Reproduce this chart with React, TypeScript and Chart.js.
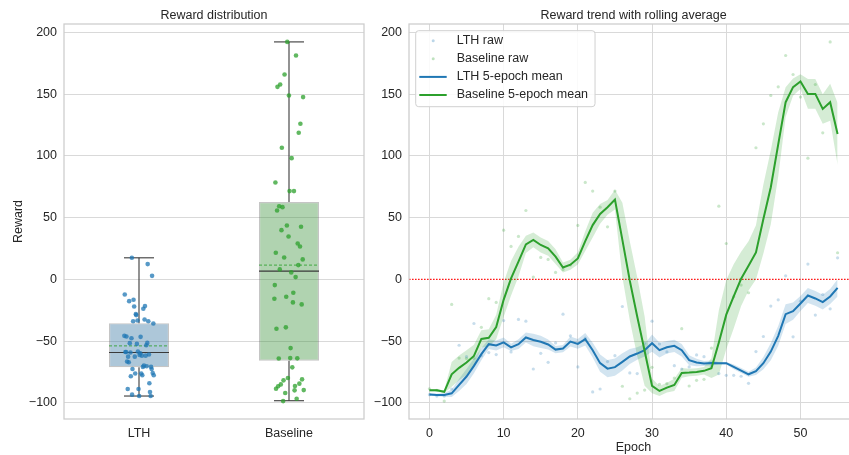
import React, { useEffect, useRef } from "react";
import { Chart, registerables } from "chart.js";

Chart.register(...registerables);

const FONT = "'Liberation Sans', Arial, Helvetica, sans-serif";
const FONT_SIZE = 12.5;
const TEXT = "#262626";
const GRID = "#d9d9d9";
const SPINE = "#cccccc";
const BLUE = "#1f77b4";
const GREEN = "#2ca02c";
const RED = "#ff0000";

// ---------------- data ----------------
const epochs = [
  0, 1, 2, 3, 4, 5, 6, 7, 8, 9, 10, 11, 12, 13, 14, 15, 16, 17, 18, 19,
  20, 21, 22, 23, 24, 25, 26, 27, 28, 29, 30, 31, 32, 33, 34, 35, 36, 37, 38, 39,
  40, 41, 42, 43, 44, 45, 46, 47, 48, 49, 50, 51, 52, 53, 54, 55,
];

const lthRaw = [
  -93.3, -94.4, -94.4, -88.7, -53.3, -62.5, -35.7, -61.7, -59.2, -60.8,
  -33.3, -58.7, -32.4, -33.8, -72.5, -59.8, -67.1, -51.4, -28.1, -45.7,
  -70.8, -47.6, -91.1, -88.7, -66.5, -61.7, -21.9, -75.7, -76.2, -51.6,
  -33.8, -52.2, -58.7, -69.8, -72.5, -70.8, -61.1, -62.5, -70.3, -76.2,
  -77.6, -77.6, -78.4, -84.1, -58.4, -46.2, -21.6, -16.5, 2.9, -46.5,
  -17.6, 12.4, -28.9, -12.2, -23.8, 17.5,
];

const baselineRaw = [
  -88.5, -89.8, -98.5, -20.2, -63.7, -64.0, -63.9, -38.8, -15.6, -18.6,
  39.9, 26.7, 34.8, 55.8, 1.9, 17.8, 16.2, 5.7, 8.1, 11.6,
  43.7, 78.5, 71.5, 58.5, 42.6, 71.5, -86.5, -96.6, -92.0, -89.6,
  -71.2, -85.0, -84.4, -79.8, -39.9, -86.3, -81.7, -80.9, -55.6, 59.3,
  29.1, -14.0, -4.6, -10.8, 106.6, 126.0, 148.9, 155.9, 181.3, 165.9,
  147.6, 98.2, 157.8, 118.7, 192.3, 21.6,
];

const lthMean = [
  -93.2, -93.5, -93.5, -92.2, -85.4, -78.6, -70.0, -60.5, -52.4, -53.5,
  -51.0, -55.0, -52.4, -47.0, -49.0, -50.5, -52.7, -56.8, -56.0, -50.3,
  -52.2, -48.4, -57.3, -67.8, -72.2, -71.0, -66.8, -62.4, -60.0, -57.3,
  -51.6, -57.3, -54.9, -53.8, -57.3, -65.4, -67.3, -68.1, -67.6, -67.8,
  -67.8, -70.8, -73.8, -76.8, -74.3, -67.8, -58.4, -45.7, -28.1, -25.7,
  -19.5, -13.0, -15.4, -18.4, -13.8, -6.8,
];

const baselineMean = [
  -89.7, -89.7, -91.0, -76.8, -71.6, -67.3, -61.9, -48.2, -47.3, -38.5,
  -16.5, 0.9, 14.4, 28.3, 32.0, 27.9, 25.2, 18.5, 9.7, 11.9,
  17.0, 31.0, 44.0, 53.0, 58.4, 64.6, 32.0, -1.0, -30.0, -58.0,
  -86.2, -90.3, -87.6, -85.4, -75.7, -75.4, -74.9, -74.0, -71.9, -51.0,
  -28.5, -13.8, 0.5, 11.0, 21.9, 48.9, 74.6, 109.4, 143.5, 155.7,
  160.2, 150.2, 150.2, 138.0, 143.5, 117.8,
];

// half-width of the shaded band around each rolling mean
const lthBand = [
  1, 1, 1.5, 3, 5, 6, 6, 5, 4, 4,
  4, 3, 4, 4, 5, 5, 4, 3, 3, 4,
  4, 5, 6, 7, 7, 7, 7, 6, 5, 5,
  7, 6, 5, 5, 5, 4, 3, 2, 2, 1,
  1, 2, 2, 2, 3, 5, 7, 8, 8, 7,
  6, 6, 6, 6, 6, 7,
];

const baselineBand = [
  1, 1, 1, 10, 10, 10, 9, 7, 7, 10,
  14, 14, 12, 7, 6, 6, 6, 6, 4, 4,
  5, 8, 10, 8, 6, 8, 30, 32, 32, 28,
  6, 4, 4, 5, 4, 3, 3, 3, 8, 26,
  28, 26, 22, 20, 22, 28, 30, 26, 12, 7,
  6, 12, 12, 12, 15, 25,
];

const groups = ["LTH", "Baseline"];
const boxLow = [-94.4, -98.2];
const boxQ1 = [-71.1, -65.8];
const boxMedian = [-59.2, 6.7];
const boxMean = [-53.8, 11.6];
const boxQ3 = [-35.4, 62.6];
const boxHigh = [17.5, 192.3];

const yTicks = [-100, -50, 0, 50, 100, 150, 200];
const epochTicks = [0, 10, 20, 30, 40, 50];
const Y_MIN = -113;
const Y_MAX = 206.8;
const X_MIN = -2.75;
const X_MAX = 57.75;
const ZERO_LEVEL = 0;

const legendLabels = ["LTH raw", "Baseline raw", "LTH 5-epoch mean", "Baseline 5-epoch mean"];

// ---------------- helpers ----------------
const fmt = (v: number) => (v < 0 ? "\u2212" + Math.abs(v) : String(v));
const jitter = (i: number) => (((i * 0.6180339887 + 0.27) % 1) - 0.5) * 0.2;
const font = { family: FONT, size: FONT_SIZE };

const framePlugin = {
  id: "frame",
  afterDraw(chart: any) {
    const { ctx, chartArea: a } = chart;
    ctx.save();
    ctx.strokeStyle = SPINE;
    ctx.lineWidth = 1.25;
    ctx.strokeRect(a.left, a.top, a.right - a.left, a.bottom - a.top);
    ctx.restore();
  },
};

const textPlugin = (title: string, xLabel: string | null, yLabel: string | null) => ({
  id: "texts",
  afterDraw(chart: any) {
    const { ctx, chartArea: a } = chart;
    ctx.save();
    ctx.fillStyle = TEXT;
    ctx.font = `${FONT_SIZE}px ${FONT}`;
    ctx.textAlign = "center";
    ctx.textBaseline = "middle";
    const cx = (a.left + a.right) / 2;
    ctx.fillText(title, cx, a.top - 8.5);
    if (xLabel) ctx.fillText(xLabel, cx, a.bottom + 29);
    if (yLabel) {
      ctx.translate(a.left - 45.5, (a.top + a.bottom) / 2);
      ctx.rotate(-Math.PI / 2);
      ctx.fillText(yLabel, 0, 0);
    }
    ctx.restore();
  },
});

// horizontal reference line (axhline) drawn through the y scale
const zeroLinePlugin = {
  id: "zeroLine",
  beforeDatasetsDraw(chart: any) {
    const { ctx, chartArea: a } = chart;
    const y = chart.scales.y.getPixelForValue(ZERO_LEVEL);
    ctx.save();
    ctx.strokeStyle = RED;
    ctx.globalAlpha = 0.9;
    ctx.lineWidth = 1.3;
    ctx.setLineDash([1.6, 1.4]);
    ctx.beginPath();
    ctx.moveTo(a.left, y);
    ctx.lineTo(a.right, y);
    ctx.stroke();
    ctx.restore();
  },
};

const boxPartsPlugin = {
  id: "boxParts",
  afterDatasetDraw(chart: any, args: any) {
    if (args.meta.type !== "bar") return;
    const { ctx } = chart;
    const xs = chart.scales.x;
    const ys = chart.scales.y;
    groups.forEach((_, i) => {
      const cx = xs.getPixelForValue(i);
      const half = xs.getPixelForValue(i + 0.2) - cx;
      const cap = half / 2;
      const line = (x1: number, y1: number, x2: number, y2: number) => {
        ctx.beginPath();
        ctx.moveTo(x1, y1);
        ctx.lineTo(x2, y2);
        ctx.stroke();
      };
      ctx.save();
      ctx.strokeStyle = "#3a3a3a";
      ctx.lineWidth = 1.1;
      line(cx, ys.getPixelForValue(boxQ3[i]), cx, ys.getPixelForValue(boxHigh[i]));
      line(cx, ys.getPixelForValue(boxQ1[i]), cx, ys.getPixelForValue(boxLow[i]));
      line(cx - cap, ys.getPixelForValue(boxHigh[i]), cx + cap, ys.getPixelForValue(boxHigh[i]));
      line(cx - cap, ys.getPixelForValue(boxLow[i]), cx + cap, ys.getPixelForValue(boxLow[i]));
      line(cx - half, ys.getPixelForValue(boxMedian[i]), cx + half, ys.getPixelForValue(boxMedian[i]));
      ctx.strokeStyle = "rgba(44,160,44,0.85)";
      ctx.lineWidth = 1;
      ctx.setLineDash([3, 2]);
      line(cx - half, ys.getPixelForValue(boxMean[i]), cx + half, ys.getPixelForValue(boxMean[i]));
      ctx.restore();
    });
  },
};

const legendPlugin = {
  id: "legendBox",
  afterDatasetsDraw(chart: any) {
    const { ctx, chartArea: a } = chart;
    ctx.save();
    ctx.font = `${FONT_SIZE}px ${FONT}`;
    const maxW = Math.max(...legendLabels.map((t) => ctx.measureText(t).width));
    const left = a.left + 6.7;
    const top = a.top + 6.7;
    const w = 41 + maxW + 7;
    const h = 76;
    ctx.beginPath();
    ctx.roundRect(left, top, w, h, 3);
    ctx.fillStyle = "rgba(255,255,255,0.85)";
    ctx.fill();
    ctx.strokeStyle = "#d0d0d0";
    ctx.lineWidth = 1;
    ctx.stroke();
    const kinds = ["dot", "dot", "line", "line"];
    const colors = ["rgba(31,119,180,0.3)", "rgba(44,160,44,0.3)", BLUE, GREEN];
    legendLabels.forEach((label, i) => {
      const cy = top + 10 + 18.1 * i;
      if (kinds[i] === "dot") {
        ctx.beginPath();
        ctx.arc(left + 17.5, cy, 1.5, 0, Math.PI * 2);
        ctx.fillStyle = colors[i];
        ctx.fill();
      } else {
        ctx.beginPath();
        ctx.moveTo(left + 3.6, cy);
        ctx.lineTo(left + 31, cy);
        ctx.strokeStyle = colors[i];
        ctx.lineWidth = 2;
        ctx.stroke();
      }
      ctx.fillStyle = TEXT;
      ctx.textAlign = "left";
      ctx.textBaseline = "middle";
      ctx.fillText(label, left + 41, cy);
    });
    ctx.restore();
  },
};

function leftConfig(): any {
  return {
    type: "scatter",
    data: {
      datasets: [
        {
          type: "scatter",
          data: lthRaw.map((v, i) => ({ x: 0 + jitter(i), y: v })),
          backgroundColor: "rgba(31,119,180,0.75)",
          borderWidth: 0,
          pointRadius: 2.3,
          order: 1,
        },
        {
          type: "scatter",
          data: baselineRaw.map((v, i) => ({ x: 1 + jitter(i + 11), y: v })),
          backgroundColor: "rgba(44,160,44,0.75)",
          borderWidth: 0,
          pointRadius: 2.3,
          order: 1,
        },
        {
          type: "bar",
          data: groups.map((_, i) => ({ x: i, y: [boxQ1[i], boxQ3[i]] })),
          backgroundColor: ["rgba(50,116,161,0.4)", "rgba(58,146,58,0.4)"],
          borderColor: "rgba(90,90,90,0.35)",
          borderWidth: 1.2,
          borderSkipped: false,
          categoryPercentage: 1,
          barPercentage: 0.4,
          order: 2,
        },
      ],
    },
    options: {
      responsive: false,
      animation: false,
      events: [],
      layout: { padding: { top: 24, right: 6, left: 0, bottom: 0 } },
      plugins: { legend: { display: false }, tooltip: { enabled: false } },
      scales: {
        x: {
          type: "linear",
          offset: false,
          min: -0.5,
          max: 1.5,
          afterBuildTicks: (s: any) => {
            s.ticks = groups.map((_, i) => ({ value: i }));
          },
          afterFit: (s: any) => {
            s.height = 36;
          },
          ticks: { callback: (v: number) => groups[v], padding: 7, color: TEXT, font, maxRotation: 0 },
          grid: { display: false, drawTicks: false, offset: false },
          border: { display: false },
        },
        y: {
          type: "linear",
          min: Y_MIN,
          max: Y_MAX,
          afterBuildTicks: (s: any) => {
            s.ticks = yTicks.map((v) => ({ value: v }));
          },
          afterFit: (s: any) => {
            s.width = 64;
          },
          ticks: { callback: (v: number) => fmt(v), padding: 7, color: TEXT, font },
          grid: { color: GRID, lineWidth: 1, drawTicks: false },
          border: { display: false },
        },
      },
    },
    plugins: [boxPartsPlugin, framePlugin, textPlugin("Reward distribution", null, "Reward")],
  };
}

function rightConfig(): any {
  const pts = (arr: number[]) => arr.map((v, i) => ({ x: epochs[i], y: v }));
  const bandPts = (mean: number[], hw: number[], sign: number) =>
    mean.map((m, i) => ({ x: epochs[i], y: m + sign * hw[i] }));
  return {
    type: "line",
    data: {
      datasets: [
        { data: bandPts(lthMean, lthBand, -1), borderWidth: 0, pointRadius: 0, fill: false, order: 6 },
        {
          data: bandPts(lthMean, lthBand, 1),
          borderWidth: 0,
          pointRadius: 0,
          fill: "-1",
          backgroundColor: "rgba(31,119,180,0.2)",
          order: 6,
        },
        { data: bandPts(baselineMean, baselineBand, -1), borderWidth: 0, pointRadius: 0, fill: false, order: 5 },
        {
          data: bandPts(baselineMean, baselineBand, 1),
          borderWidth: 0,
          pointRadius: 0,
          fill: "-1",
          backgroundColor: "rgba(44,160,44,0.2)",
          order: 5,
        },
        {
          data: pts(lthRaw),
          showLine: false,
          pointRadius: 1.6,
          borderWidth: 0,
          backgroundColor: "rgba(31,119,180,0.25)",
          order: 4,
        },
        {
          data: pts(baselineRaw),
          showLine: false,
          pointRadius: 1.6,
          borderWidth: 0,
          backgroundColor: "rgba(44,160,44,0.25)",
          order: 4,
        },
        { data: pts(lthMean), borderColor: BLUE, borderWidth: 2, pointRadius: 0, order: 1 },
        { data: pts(baselineMean), borderColor: GREEN, borderWidth: 2, pointRadius: 0, order: 0 },
      ],
    },
    options: {
      responsive: false,
      animation: false,
      events: [],
      layout: { padding: { top: 24, right: 12, left: 0, bottom: 0 } },
      plugins: { legend: { display: false }, tooltip: { enabled: false } },
      elements: { line: { tension: 0 } },
      scales: {
        x: {
          type: "linear",
          min: X_MIN,
          max: X_MAX,
          afterBuildTicks: (s: any) => {
            s.ticks = epochTicks.map((v) => ({ value: v }));
          },
          afterFit: (s: any) => {
            s.height = 36;
          },
          ticks: { callback: (v: number) => String(v), padding: 7, color: TEXT, font, maxRotation: 0 },
          grid: { color: GRID, lineWidth: 1, drawTicks: false },
          border: { display: false },
        },
        y: {
          type: "linear",
          min: Y_MIN,
          max: Y_MAX,
          afterBuildTicks: (s: any) => {
            s.ticks = yTicks.map((v) => ({ value: v }));
          },
          afterFit: (s: any) => {
            s.width = 39;
          },
          ticks: { callback: (v: number) => fmt(v), padding: 7, color: TEXT, font },
          grid: {
            color: (c: any) => (c.tick && c.tick.value === ZERO_LEVEL ? "rgba(0,0,0,0)" : GRID),
            lineWidth: 1,
            drawTicks: false,
          },
          border: { display: false },
        },
      },
    },
    plugins: [zeroLinePlugin, legendPlugin, framePlugin, textPlugin("Reward trend with rolling average", "Epoch", null)],
  };
}

export default function App() {
  const leftRef = useRef<HTMLCanvasElement>(null);
  const rightRef = useRef<HTMLCanvasElement>(null);

  useEffect(() => {
    Chart.defaults.font.family = FONT;
    Chart.defaults.font.size = FONT_SIZE;
    Chart.defaults.color = TEXT;
    const c1 = new Chart(leftRef.current as HTMLCanvasElement, leftConfig());
    const c2 = new Chart(rightRef.current as HTMLCanvasElement, rightConfig());
    return () => {
      c1.destroy();
      c2.destroy();
    };
  }, []);

  return (
    <div
      style={{
        position: "absolute",
        left: 0,
        top: 0,
        width: 849,
        height: 455,
        overflow: "hidden",
        background: "#ffffff",
      }}
    >
      <canvas
        ref={leftRef}
        width={370}
        height={455}
        style={{ position: "absolute", left: 0, top: 0, width: 370, height: 455 }}
      />
      <canvas
        ref={rightRef}
        width={500}
        height={455}
        style={{ position: "absolute", left: 370, top: 0, width: 500, height: 455 }}
      />
    </div>
  );
}
